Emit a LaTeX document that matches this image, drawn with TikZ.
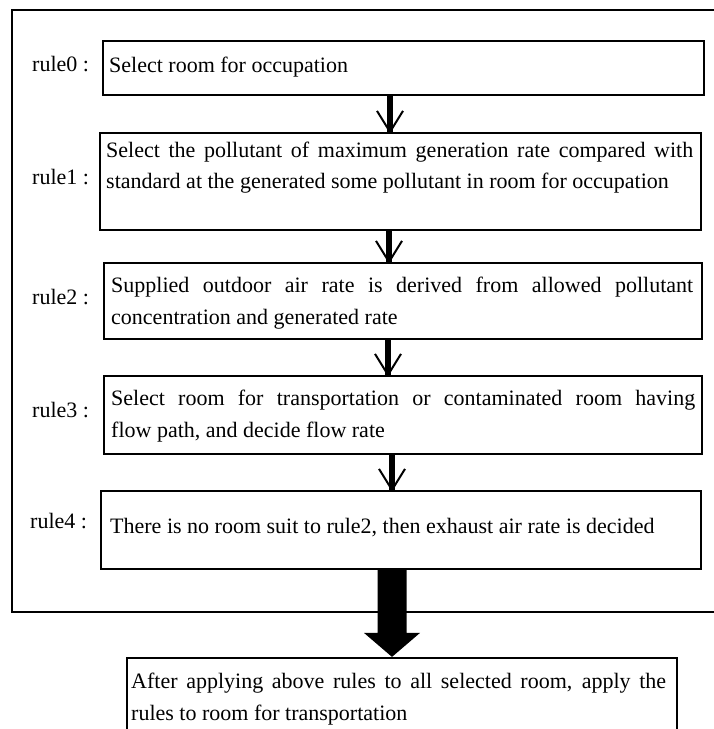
\documentclass[tikz,border=0pt]{standalone}
\usepackage{fontspec}
\setmainfont{Liberation Serif}
\usetikzlibrary{calc}
\newcommand\smallarrow[3]{%
  \draw[shaftline] (#1.south -| #3) -- (#2.north -| #3);
  \draw[barbline] ($(#2.north -| #3)+(-13,-21)$) -- (#2.north -| #3) -- ($(#2.north -| #3)+(13,-21)$);
}
\begin{document}
\begin{tikzpicture}[x=1pt,y=-1pt,
  box/.style={draw, line width=2.2pt, rectangle, inner sep=0pt},
  frameline/.style={draw, line width=1.4pt},
  txt/.style={inner sep=0pt, anchor=base west, font=\fontsize{22}{32}\selectfont},
  para/.style={txt, text width=#1, align=justify},
  rulelab/.style={txt},
  shaftline/.style={line width=5.5pt},
  barbline/.style={line width=2pt},
]
\useasboundingbox (0,0) rectangle (714,729);
\clip (0,0) rectangle (714,729);

% outer frame (open to the right)
\draw[frameline] (12,10) rectangle (760,612);

% boxes
\node[box, minimum width=601pt, minimum height=54pt] (b0) at (403.5,68) {};
\node[box, minimum width=601pt, minimum height=97pt] (b1) at (400.5,181.5) {};
\node[box, minimum width=598pt, minimum height=76pt] (b2) at (403,301) {};
\node[box, minimum width=598pt, minimum height=78pt] (b3) at (403,415) {};
\node[box, minimum width=600pt, minimum height=78pt] (b4) at (401,530) {};
\node[box, minimum width=550pt, minimum height=110pt] (b5) at (402,713) {};

% rule labels
\node[rulelab] (r0) at (32,71) {rule0 :};
\node[rulelab] (r1) at (32,184) {rule1 :};
\node[rulelab] (r2) at (32,304) {rule2 :};
\node[rulelab] (r3) at (32,417) {rule3 :};
\node[rulelab] (r4) at (30,528) {rule4 :};

% box texts
\node[txt] (t0) at (109,72.5) {Select room for occupation};
\node[para=587pt, font=\fontsize{22}{31}\selectfont] (t1) at (106,157) {Select the pollutant of maximum generation rate compared with\linebreak standard at the generated some pollutant in room for occupation};
\node[para=582pt] (t2) at (111,292.5) {Supplied outdoor air rate is derived from allowed pollutant\linebreak concentration and generated rate};
\node[para=584pt] (t3) at (111,405) {Select room for transportation or contaminated room having\linebreak flow path, and decide flow rate};
\node[txt] (t4) at (110,533) {There is no room suit to rule2, then exhaust air rate is decided};
\node[para=535pt] (t5) at (131,688) {After applying above rules to all selected room, apply the\linebreak rules to room for transportation};

% small arrows
\coordinate (ax0) at (390,0);
\coordinate (ax1) at (389,0);
\coordinate (ax2) at (388,0);
\coordinate (ax3) at (392,0);
\smallarrow{b0}{b1}{ax0}
\smallarrow{b1}{b2}{ax1}
\smallarrow{b2}{b3}{ax2}
\smallarrow{b3}{b4}{ax3}

% big arrow
\coordinate (bx) at (392,0);
\fill ($(b4.south -| bx)+(-14.5,0)$) -- ($(b4.south -| bx)+(14.5,0)$)
  -- ($(b5.north -| bx)+(14.5,-24)$) -- ($(b5.north -| bx)+(28,-24)$)
  -- (b5.north -| bx) -- ($(b5.north -| bx)+(-28,-24)$)
  -- ($(b5.north -| bx)+(-14.5,-24)$) -- cycle;
\end{tikzpicture}
\end{document}
